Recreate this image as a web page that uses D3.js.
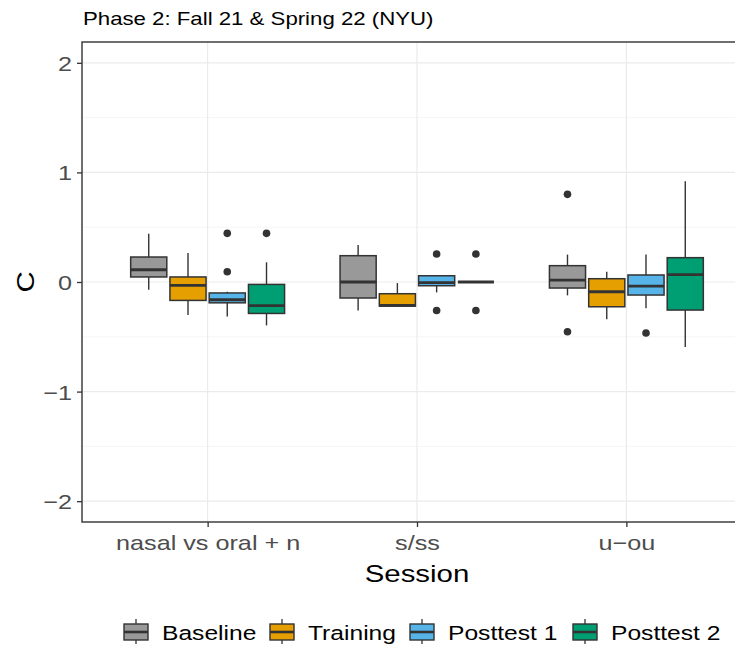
<!DOCTYPE html>
<html>
<head>
<meta charset="utf-8">
<script src="https://cdn.jsdelivr.net/npm/d3@7"></script>
<style>
  body { margin: 0; background: #fff; }
  svg text { font-family: "Liberation Sans", Arial, Helvetica, sans-serif; }
</style>
</head>
<body>
<svg id="chart" width="735" height="645"></svg>
<script>
// categories
const sessions = ["nasal vs oral + n", "s/ss", "u\u2212ou"];
const phases = ["Baseline", "Training", "Posttest 1", "Posttest 2"];
const phaseColors = ["#999999", "#E69F00", "#56B4E9", "#009E73"];
const yTicks = [-2, -1, 0, 1, 2];

// box stats per session: [lower whisker, q1, median, q3, upper whisker]
const baselineStats = [[-0.07, 0.046, 0.112, 0.228, 0.44], [-0.26, -0.146, 0, 0.24, 0.338], [-0.122, -0.055, 0.018, 0.149, 0.25]];
const trainingStats = [[-0.30, -0.168, -0.031, 0.046, 0.265], [-0.22, -0.22, -0.213, -0.107, -0.01], [-0.34, -0.226, -0.089, 0.03, 0.094]];
const posttest1Stats = [[-0.314, -0.19, -0.162, -0.10, -0.09], [-0.095, -0.034, -0.005, 0.057, 0.057], [-0.24, -0.119, -0.037, 0.064, 0.25]];
const posttest2Stats = [[-0.396, -0.287, -0.216, -0.022, 0.18], [0, 0, 0, 0, 0], [-0.594, -0.256, 0.067, 0.222, 0.92]];

// outliers per session
const baselineOut = [[], [], [0.80, -0.454]];
const trainingOut = [[], [], []];
const posttest1Out = [[0.444, 0.094], [0.255, -0.26], [-0.466]];
const posttest2Out = [[0.444], [0.255, -0.26], []];

const allStats = [baselineStats, trainingStats, posttest1Stats, posttest2Stats];
const allOut = [baselineOut, trainingOut, posttest1Out, posttest2Out];

const svg = d3.select("#chart");
const panel = {left: 82, top: 42, right: 752, bottom: 522};

// the reference font runs wider than Liberation Sans, stretch it a bit
const WIDEN = 1.2;
function widen(sel) {
    sel.each(function () {
        const w = this.getComputedTextLength();
        d3.select(this).attr("textLength", w * WIDEN).attr("lengthAdjust", "spacingAndGlyphs");
    });
}

// discrete x axis with ggplot-like 0.6 expansion
const x = d3.scaleLinear().domain([0.4, 3.6]).range([panel.left, panel.right]);
const y = d3.scaleLinear().domain([-2.19, 2.19]).range([panel.bottom, panel.top]);

const dodge = 0.75 / phases.length;
const boxW = x(dodge * 0.92) - x(0);

// background grid
const grid = svg.append("g");
grid.selectAll(".minor")
    .data([-1.5, -0.5, 0.5, 1.5])
    .enter().append("line")
    .attr("x1", panel.left).attr("x2", panel.right)
    .attr("y1", d => y(d)).attr("y2", d => y(d))
    .attr("stroke", "#F5F5F5").attr("stroke-width", 1);
grid.selectAll(".majorY")
    .data(yTicks)
    .enter().append("line")
    .attr("x1", panel.left).attr("x2", panel.right)
    .attr("y1", d => y(d)).attr("y2", d => y(d))
    .attr("stroke", "#EBEBEB").attr("stroke-width", 1.2);
grid.selectAll(".majorX")
    .data(sessions)
    .enter().append("line")
    .attr("x1", (d, i) => x(i + 1)).attr("x2", (d, i) => x(i + 1))
    .attr("y1", panel.top).attr("y2", panel.bottom)
    .attr("stroke", "#EBEBEB").attr("stroke-width", 1.2);

// boxes
const boxes = svg.append("g");
allStats.forEach((stats, p) => {
    stats.forEach((s, si) => {
        const cx = x(si + 1 + (p - 1.5) * dodge);
        const g = boxes.append("g");
        g.append("line")
            .attr("x1", cx).attr("x2", cx)
            .attr("y1", y(s[4])).attr("y2", y(s[3]))
            .attr("stroke", "#333333").attr("stroke-width", 1.4);
        g.append("line")
            .attr("x1", cx).attr("x2", cx)
            .attr("y1", y(s[1])).attr("y2", y(s[0]))
            .attr("stroke", "#333333").attr("stroke-width", 1.4);
        g.append("rect")
            .attr("x", cx - boxW / 2).attr("width", boxW)
            .attr("y", y(s[3])).attr("height", y(s[1]) - y(s[3]))
            .attr("fill", phaseColors[p])
            .attr("stroke", "#333333").attr("stroke-width", 1.5);
        g.append("line")
            .attr("x1", cx - boxW / 2).attr("x2", cx + boxW / 2)
            .attr("y1", y(s[2])).attr("y2", y(s[2]))
            .attr("stroke", "#333333").attr("stroke-width", 2.8);
        g.selectAll("circle")
            .data(allOut[p][si])
            .enter().append("circle")
            .attr("cx", cx).attr("cy", d => y(d))
            .attr("r", 3.8).attr("fill", "#333333");
    });
});

// panel border
svg.append("rect")
    .attr("x", panel.left).attr("y", panel.top)
    .attr("width", panel.right - panel.left).attr("height", panel.bottom - panel.top)
    .attr("fill", "none").attr("stroke", "#333333").attr("stroke-width", 1.4);

// y axis
const yAxis = svg.append("g")
    .attr("transform", `translate(${panel.left},0)`)
    .call(d3.axisLeft(y).tickValues(yTicks).tickSize(5).tickPadding(5)
        .tickFormat(d => d < 0 ? "\u2212" + Math.abs(d) : d));
yAxis.select(".domain").remove();
yAxis.selectAll(".tick line").attr("stroke", "#333333").attr("stroke-width", 1.3);
yAxis.selectAll(".tick text").attr("fill", "#4D4D4D").attr("font-size", 21).attr("dy", "0.36em")
    .call(widen);

// x axis
const xAxis = svg.append("g")
    .attr("transform", `translate(0,${panel.bottom})`)
    .call(d3.axisBottom(x).tickValues([1, 2, 3]).tickSize(5).tickPadding(5)
        .tickFormat(d => sessions[d - 1]));
xAxis.select(".domain").remove();
xAxis.selectAll(".tick line").attr("stroke", "#333333").attr("stroke-width", 1.3);
xAxis.selectAll(".tick text").attr("fill", "#4D4D4D").attr("font-size", 21)
    .attr("y", 28).attr("dy", null)
    .call(widen);

// titles
svg.append("text")
    .attr("x", 83).attr("y", 25)
    .attr("font-size", 18.5).attr("fill", "#000")
    .text("Phase 2: Fall 21 & Spring 22 (NYU)")
    .call(widen);
svg.append("text")
    .attr("x", 417).attr("y", 582)
    .attr("text-anchor", "middle")
    .attr("font-size", 24.5).attr("fill", "#000")
    .text("Session")
    .call(widen);
svg.append("text")
    .attr("transform", `translate(34,${y(0)}) rotate(-90)`)
    .attr("text-anchor", "middle")
    .attr("font-size", 24.5).attr("fill", "#000")
    .text("C")
    .call(widen);

// legend
const legendX = [124, 270, 410, 573];
const legend = svg.append("g");
phases.forEach((name, i) => {
    const lx = legendX[i];
    const g = legend.append("g").attr("transform", `translate(${lx},0)`);
    g.append("line")
        .attr("x1", 12).attr("x2", 12).attr("y1", 619).attr("y2", 644)
        .attr("stroke", "#333333").attr("stroke-width", 1.3);
    g.append("rect")
        .attr("x", 0).attr("y", 624).attr("width", 24).attr("height", 16)
        .attr("fill", phaseColors[i]).attr("stroke", "#333333").attr("stroke-width", 1.4);
    g.append("line")
        .attr("x1", 0).attr("x2", 24).attr("y1", 632).attr("y2", 632)
        .attr("stroke", "#333333").attr("stroke-width", 2.6);
    g.append("text")
        .attr("x", 38).attr("y", 640)
        .attr("font-size", 20.5).attr("fill", "#000")
        .text(name)
        .call(widen);
});
</script>
</body>
</html>
